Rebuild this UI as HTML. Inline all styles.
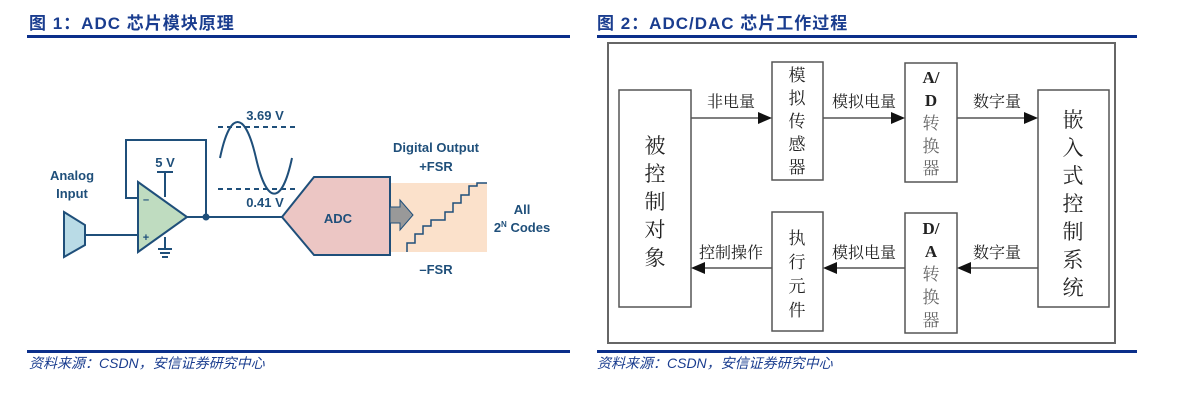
<!DOCTYPE html>
<html><head><meta charset="utf-8"><style>
body{margin:0;width:1179px;height:410px;background:#fff;position:relative;overflow:hidden;font-family:"Liberation Sans","Noto Sans CJK SC",sans-serif}
.t{position:absolute;top:9px;font-size:17px;font-weight:bold;color:#1a3d8f;letter-spacing:1px}
.ln{position:absolute;height:3px;background:#0b2f8a}
.src{position:absolute;top:353px;font-size:14px;color:#1a3d8f;font-style:italic}
</style></head><body>
<div class="t" style="left:29px">图 1：ADC 芯片模块原理</div>
<div class="t" style="left:597px">图 2：ADC/DAC 芯片工作过程</div>
<div class="ln" style="left:27px;width:543px;top:35px"></div>
<div class="ln" style="left:597px;width:540px;top:35px"></div>
<div class="ln" style="left:27px;width:543px;top:350px"></div>
<div class="ln" style="left:597px;width:540px;top:350px"></div>
<div class="src" style="left:29px">资料来源：CSDN，安信证券研究中心</div>
<div class="src" style="left:597px">资料来源：CSDN，安信证券研究中心</div>
<svg width="1179" height="410" style="position:absolute;left:0;top:0" font-family="Liberation Sans, sans-serif">
<g stroke="#1f4f7a" stroke-width="2" fill="none">
<polygon points="64,212 85,225 85,245 64,257" fill="#b9dbe6"/>
<line x1="85" y1="235" x2="138" y2="235"/>
<polygon points="138,182 187,217 138,252" fill="#bfdcc0"/>
<polyline points="138,198 126,198 126,140 206,140 206,217"/>
<line x1="187" y1="217" x2="282" y2="217"/>
<line x1="165" y1="172" x2="165" y2="197"/>
<line x1="157" y1="172" x2="173" y2="172"/>
<line x1="165" y1="237" x2="165" y2="249"/>
<line x1="158" y1="249" x2="172" y2="249"/><line x1="160" y1="253" x2="170" y2="253"/><line x1="162" y1="257" x2="168" y2="257"/>
<path d="M220,158 C230,110 245,110 256,158 S282,205 292,158"/>
<line x1="218" y1="127" x2="296" y2="127" stroke-dasharray="5,4"/>
<line x1="218" y1="189" x2="296" y2="189" stroke-dasharray="5,4"/>
<rect x="390" y="183" width="97" height="69" fill="#fbe1cb" stroke="none"/>
<polygon points="282,217 314,177 390,177 390,255 314,255" fill="#ecc6c4"/>
<polyline points="407,252 407,243 415,243 415,234 423,234 423,226 431,226 431,220 445,220 445,212 453,212 453,203 461,203 461,195 469,195 469,186 477,186 477,183 487,183" stroke-width="1.5"/>
</g>
<circle cx="206" cy="217" r="3.5" fill="#1f4f7a"/>
<polygon points="390,207 400,207 400,200 413,215 400,230 400,223 390,223" fill="#999" stroke="#1f4f7a" stroke-width="1"/>
<g fill="#1f4f7a" font-weight="bold" font-size="13" text-anchor="middle">
<text x="72" y="180">Analog</text><text x="72" y="198">Input</text>
<text x="165" y="167">5 V</text>
<text x="146" y="203" font-size="11">–</text><text x="146" y="241" font-size="11">+</text>
<text x="265" y="120">3.69 V</text><text x="265" y="207">0.41 V</text>
<text x="338" y="223">ADC</text>
<text x="436" y="152">Digital Output</text><text x="436" y="171">+FSR</text>
<text x="436" y="274">–FSR</text>
<text x="522" y="214">All</text><text x="522" y="232">2<tspan font-size="8" dy="-5">N</tspan><tspan dy="5"> Codes</tspan></text>
</g>
<rect x="608" y="43" width="507" height="300" fill="none" stroke="#666" stroke-width="2"/>
<g stroke="#555" stroke-width="1.5" fill="#fff">
<rect x="619" y="90" width="72" height="217"/>
<rect x="772" y="62" width="51" height="118"/>
<rect x="905" y="63" width="52" height="119"/>
<rect x="1038" y="90" width="71" height="217"/>
<rect x="772" y="212" width="51" height="119"/>
<rect x="905" y="213" width="52" height="120"/>
<line x1="691" y1="118" x2="762" y2="118"/><line x1="823" y1="118" x2="895" y2="118"/><line x1="957" y1="118" x2="1028" y2="118"/>
<line x1="701" y1="268" x2="772" y2="268"/><line x1="833" y1="268" x2="905" y2="268"/><line x1="967" y1="268" x2="1038" y2="268"/>
</g>
<g fill="#111">
<polygon points="772,118 758,112 758,124"/><polygon points="905,118 891,112 891,124"/><polygon points="1038,118 1024,112 1024,124"/>
<polygon points="691,268 705,262 705,274"/><polygon points="823,268 837,262 837,274"/><polygon points="957,268 971,262 971,274"/>
</g>
<g fill="#222" font-family="Liberation Serif, Noto Serif CJK SC, serif" font-size="16" text-anchor="middle">
<text x="731" y="107">非电量</text><text x="864" y="107">模拟电量</text><text x="997" y="107">数字量</text>
<text x="731" y="258">控制操作</text><text x="864" y="258">模拟电量</text><text x="997" y="258">数字量</text>
<g font-size="17"><text x="797" y="81">模</text><text x="797" y="104">拟</text><text x="797" y="127">传</text><text x="797" y="150">感</text><text x="797" y="173">器</text>
<text x="931" y="83" font-weight="bold">A/</text><text x="931" y="106" font-weight="bold">D</text><text x="931" y="129" fill="#666">转</text><text x="931" y="152" fill="#666">换</text><text x="931" y="174" fill="#666">器</text>
<text x="797" y="244">执</text><text x="797" y="268">行</text><text x="797" y="292">元</text><text x="797" y="316">件</text>
<text x="931" y="234" font-weight="bold">D/</text><text x="931" y="257" font-weight="bold">A</text><text x="931" y="280" fill="#666">转</text><text x="931" y="303" fill="#666">换</text><text x="931" y="326" fill="#666">器</text></g>
<g font-size="21"><text x="655" y="153">被</text><text x="655" y="181">控</text><text x="655" y="209">制</text><text x="655" y="237">对</text><text x="655" y="265">象</text>
<text x="1073" y="127">嵌</text><text x="1073" y="155">入</text><text x="1073" y="183">式</text><text x="1073" y="211">控</text><text x="1073" y="239">制</text><text x="1073" y="267">系</text><text x="1073" y="295">统</text></g>
</g>
</svg>
</body></html>
